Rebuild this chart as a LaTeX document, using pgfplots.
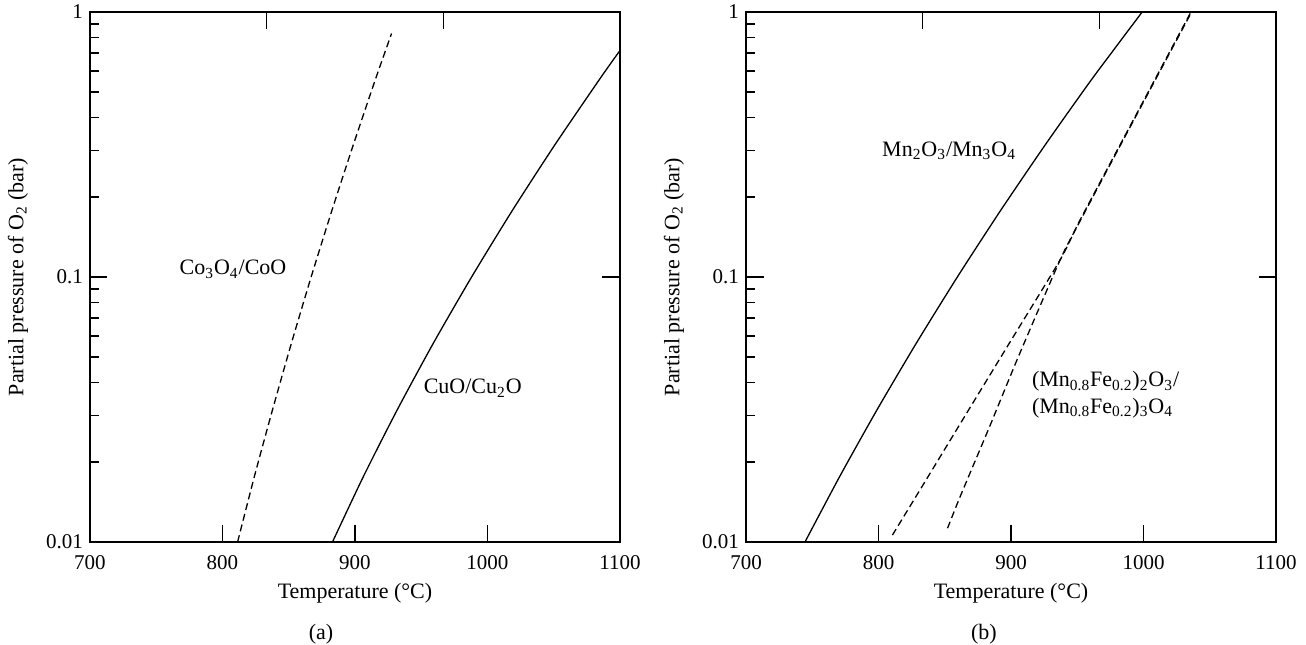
\documentclass[border=0pt]{standalone}
\usepackage{fontspec}
\setmainfont{Liberation Serif}
\usepackage{pgfplots}
\pgfplotsset{compat=1.18}

\tikzset{
  solidcurve/.style={black, line width=0.65pt, smooth, tension=0.4},
  dashcurve/.style={black, line width=0.65pt, smooth, tension=0.4, dash pattern=on 3.5pt off 2pt},
  chemlbl/.style={font=\fontsize{11}{13}\selectfont, anchor=base west, inner sep=0pt},
}

\begin{document}
\begin{tikzpicture}
\useasboundingbox (-45pt,-51pt) rectangle (608pt,271pt);

% (a)
\begin{axis}[
    at={(0pt,0pt)},
    scale only axis, width=265pt, height=265pt,
    xmin=700, xmax=1100, ymin=0.01, ymax=1, ymode=log,
    axis line style={line width=0.75pt},
    tick align=inside,
    major tick length=8.75pt, minor tick length=4.5pt,
    tick style={line width=0.75pt, black},
    clip=false,
    xtick={700,800,900,1000,1100},
    xticklabels={700,800,900,1000,1100},
    xtick pos=bottom,
    ytick={0.01,0.1,1},
    yticklabels={0.01,0.1,1},
    ytick pos=left,
    minor ytick={0.02,0.03,0.04,0.05,0.06,0.07,0.08,0.09,0.2,0.3,0.4,0.5,0.6,0.7,0.8,0.9},
    tick label style={font=\fontsize{10.5}{12}\selectfont},
    xticklabel style={yshift=-3pt},
    label style={font=\fontsize{11}{13}\selectfont},
    xlabel={Temperature (\textdegree C)},
    ylabel={Partial pressure of O\textsubscript{2} (bar)},
    xlabel style={at={(axis description cs:0.5,-0.0962)}, anchor=center},
    ylabel style={at={(axis description cs:-0.1358,0.5)}, anchor=center},
  ]
  % Co3O4/CoO
  \addplot[dashcurve] coordinates {
    (811.4,0.01) (824.2,0.01778) (837.8,0.03162) (852.0,0.05623)
    (866.9,0.1) (882.5,0.1778) (898.8,0.3162) (915.7,0.5623) (927.6,0.83)
  };
  % CuO/Cu2O
  \addplot[solidcurve] coordinates {
    (883,0.01) (906.6,0.01778) (932.0,0.03162) (959.1,0.05623)
    (988,0.1) (1018.6,0.1778) (1051,0.3162) (1085.1,0.5623) (1100,0.716)
  };
  \node[chemlbl] at (axis cs:767.4,0.102) {Co\textsubscript{3}O\textsubscript{4}/CoO};
  \node[chemlbl] at (axis cs:951.6,0.0362) {CuO/Cu\textsubscript{2}O};
  \node[font=\fontsize{11}{13}\selectfont, anchor=center] at (rel axis cs:0.436,-0.1736) {(a)};
\end{axis}
% top and right ticks of (a)
\begin{axis}[
    at={(0pt,0pt)},
    scale only axis, width=265pt, height=265pt,
    xmin=700, xmax=1100, ymin=0.01, ymax=1, ymode=log,
    axis line style={draw=none},
    tick align=inside, major tick length=8.75pt,
    tick style={line width=0.75pt, black},
    xtick={833.33,966.67}, xticklabels={}, xtick pos=top,
    ytick={0.1}, yticklabels={}, ytick pos=right,
    yminorticks=false,
  ]
  \addplot[draw=none] coordinates {(800,0.1)};
\end{axis}

% (b)
\begin{axis}[
    at={(328pt,0pt)},
    scale only axis, width=265pt, height=265pt,
    xmin=700, xmax=1100, ymin=0.01, ymax=1, ymode=log,
    axis line style={line width=0.75pt},
    tick align=inside,
    major tick length=8.75pt, minor tick length=4.5pt,
    tick style={line width=0.75pt, black},
    clip=false,
    xtick={700,800,900,1000,1100},
    xticklabels={700,800,900,1000,1100},
    xtick pos=bottom,
    ytick={0.01,0.1,1},
    yticklabels={0.01,0.1,1},
    ytick pos=left,
    minor ytick={0.02,0.03,0.04,0.05,0.06,0.07,0.08,0.09,0.2,0.3,0.4,0.5,0.6,0.7,0.8,0.9},
    tick label style={font=\fontsize{10.5}{12}\selectfont},
    xticklabel style={yshift=-3pt},
    label style={font=\fontsize{11}{13}\selectfont},
    xlabel={Temperature (\textdegree C)},
    ylabel={Partial pressure of O\textsubscript{2} (bar)},
    xlabel style={at={(axis description cs:0.5,-0.0962)}, anchor=center},
    ylabel style={at={(axis description cs:-0.1358,0.5)}, anchor=center},
  ]
  % Mn2O3/Mn3O4
  \addplot[solidcurve] coordinates {
    (744.5,0.01) (771,0.01778) (799,0.03162) (828.5,0.05623)
    (859.5,0.1) (892,0.1778) (926,0.3162) (961.5,0.5623) (999,1)
  };
  % (Mn0.8Fe0.2) oxides, two dashed branches
  \addplot[dashcurve] coordinates {
    (810.5,0.01062) (837.8,0.01778) (868.2,0.03162) (898.7,0.05623)
    (937.1,0.1161) (952.2,0.1644) (993.1,0.398) (1035.8,1)
  };
  \addplot[dashcurve] coordinates {
    (852.1,0.01127) (861.6,0.01483) (883.5,0.0270) (905.6,0.0501)
    (937.1,0.1161) (952.6,0.1644) (993.5,0.398) (1036.3,1)
  };
  \node[chemlbl] at (axis cs:802.5,0.285) {Mn\textsubscript{2}O\textsubscript{3}/Mn\textsubscript{3}O\textsubscript{4}};
  \node[chemlbl] at (axis cs:915.6,0.0385) {(Mn\textsubscript{0.8}Fe\textsubscript{0.2})\textsubscript{2}O\textsubscript{3}/};
  \node[chemlbl] at (axis cs:915.6,0.0306) {(Mn\textsubscript{0.8}Fe\textsubscript{0.2})\textsubscript{3}O\textsubscript{4}};
  \node[font=\fontsize{11}{13}\selectfont, anchor=center] at (rel axis cs:0.449,-0.1736) {(b)};
\end{axis}
% top and right ticks of (b)
\begin{axis}[
    at={(328pt,0pt)},
    scale only axis, width=265pt, height=265pt,
    xmin=700, xmax=1100, ymin=0.01, ymax=1, ymode=log,
    axis line style={draw=none},
    tick align=inside, major tick length=8.75pt,
    tick style={line width=0.75pt, black},
    xtick={833.33,966.67}, xticklabels={}, xtick pos=top,
    ytick={0.1}, yticklabels={}, ytick pos=right,
    yminorticks=false,
  ]
  \addplot[draw=none] coordinates {(800,0.1)};
\end{axis}
\end{tikzpicture}
\end{document}
